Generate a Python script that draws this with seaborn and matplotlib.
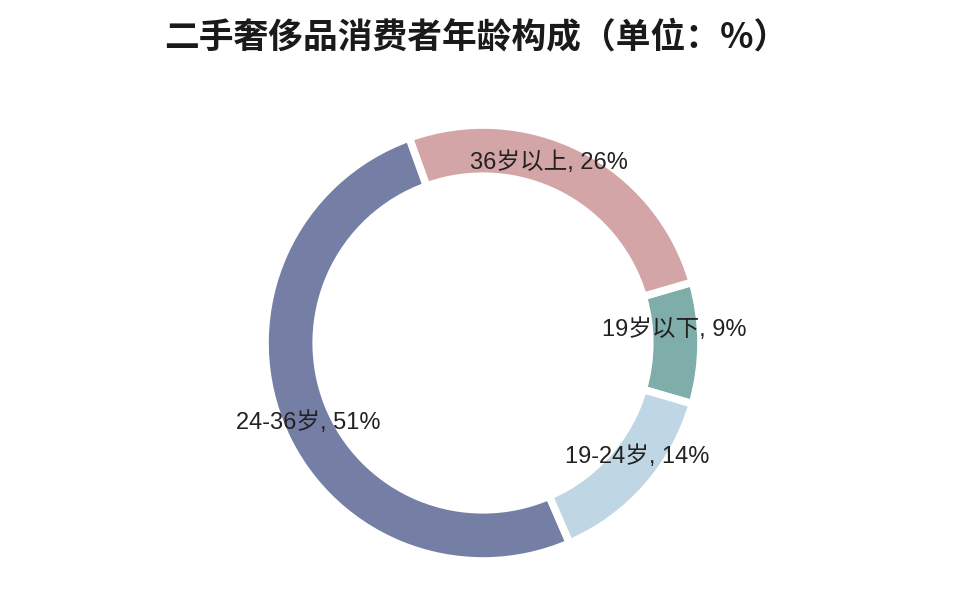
import matplotlib
matplotlib.use("Agg")
import matplotlib.pyplot as plt
import seaborn as sns
import numpy as np

# data (counterclockwise order, starting at the right)
categories = ["19岁以下", "36岁以上", "24-36岁", "19-24岁"]
shares = [9, 26, 51, 14]
colors = ["#7fadaa", "#d4a5a6", "#757fa5", "#bfd6e4"]
title = "二手奢侈品消费者年龄构成（单位：%）"

sns.set_theme(style="white")
plt.rcParams["font.family"] = ["Noto Sans CJK SC", "DejaVu Sans"]

W, H = 972, 609
fig = plt.figure(figsize=(W / 100, H / 100), dpi=100)
cx, cy, r = 483, 343, 218
ax = fig.add_axes([(cx - r) / W, (H - cy - r) / H, 2 * r / W, 2 * r / H])

start = -shares[0] / 100 * 360 / 2
wedges, _ = ax.pie(shares, colors=colors, startangle=start, counterclock=True,
                   radius=1, wedgeprops=dict(width=0.235, edgecolor="white", linewidth=5.5))
ax.set_xlim(-1, 1)
ax.set_ylim(-1, 1)
ax.set_aspect("equal")
ax.axis("off")

# labels around the ring, near each wedge's middle
label_r = 0.88
offsets = {"36岁以上": 7, "24-36岁": 3, "19-24岁": 5, "19岁以下": 4}
for w, cat, v in zip(wedges, categories, shares):
    ang = np.deg2rad((w.theta1 + w.theta2) / 2 + offsets[cat])
    ax.text(label_r * np.cos(ang), label_r * np.sin(ang), f"{cat}, {v}%",
            ha="center", va="center", fontsize=17, color="#222222",
            family=["Liberation Sans", "Noto Sans CJK SC"])

fig.text(476 / W, 1 - 38 / H, title, ha="center", va="center",
         fontsize=25, fontweight="bold", color="#1a1a1a")

fig.savefig("out.png", dpi=100)
